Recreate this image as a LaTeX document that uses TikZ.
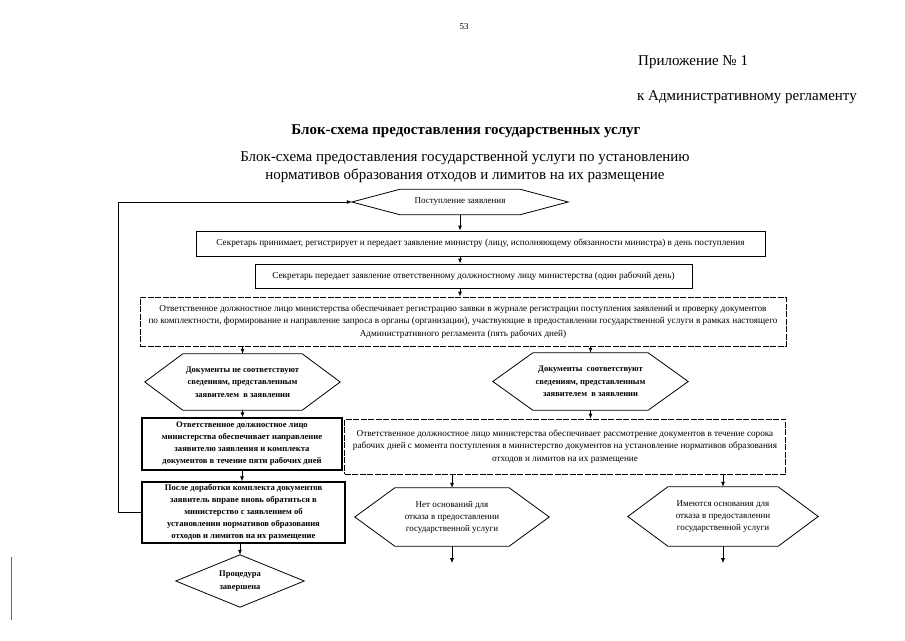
\documentclass[tikz,border=0pt]{standalone}
\usepackage{fontspec}
\setmainfont{Liberation Serif}
\usetikzlibrary{arrows.meta}

\tikzset{
  box/.style={draw, line width=0.8pt, inner sep=2pt, align=center, font=\fontsize{9.2}{12.5}\selectfont},
  dbox/.style={box, dash pattern=on 6pt off 1.5pt},
  bbox/.style={box, line width=1.1pt, font=\bfseries\fontsize{8.6}{12}\selectfont},
  hexa/.style={inner sep=0pt, align=center, font=\fontsize{9}{12}\selectfont},
  bhexa/.style={hexa, font=\bfseries\fontsize{8.5}{12.5}\selectfont},
  head/.style={inner sep=0pt, font=\fontsize{15}{15}\selectfont},
  arr/.style={-{Latex[length=5pt,width=4pt]}, line width=0.8pt}
}

\begin{document}
\begin{tikzpicture}[x=1pt, y=-1pt]
\useasboundingbox (0,0) rectangle (905,640);

% header
\node[inner sep=0pt, font=\fontsize{9}{9}\selectfont] (page) at (464,27) {53};
\node[head, anchor=west] (app) at (638,62) {Приложение № 1};
\node[head, anchor=west] (appto) at (637,97) {к Административному регламенту};
\node[inner sep=0pt, font=\bfseries\fontsize{15}{15}\selectfont] (title) at (466,131) {Блок-схема предоставления государственных услуг};
\node[inner sep=0pt, align=center, font=\fontsize{15}{18}\selectfont] (subtitle) at (465,167)
  {Блок-схема предоставления государственной услуги по установлению\\нормативов образования отходов и лимитов на их размещение};

% blocks
\node[hexa, minimum width=216, minimum height=25] (start) at (460,202) {Поступление заявления};
\node[box, minimum width=569, minimum height=25] (sec1) at (480.5,243.5)
  {Секретарь принимает, регистрирует и передает заявление министру (лицу, исполняющему обязанности министра) в день поступления};
\node[box, minimum width=437, minimum height=24] (sec2) at (473.5,276)
  {Секретарь передает заявление ответственному должностному лицу министерства (один рабочий день)};
\node[dbox, minimum width=646, minimum height=49] (reg) at (463,321.5)
  {Ответственное должностное лицо министерства обеспечивает регистрацию заявки в журнале регистрации поступления заявлений и проверку документов\\
   по комплектности, формирование и направление запроса в органы (организации), участвующие в предоставлении государственной услуги в рамках настоящего\\
   Административного регламента (пять рабочих дней)};

\node[bhexa, minimum width=195, minimum height=56] (nomatch) at (242.5,382)
  {Документы не соответствуют\\сведениям, представленным\\заявителем \ в заявлении};
\node[bhexa, minimum width=195, minimum height=57] (match) at (590.5,381.5)
  {Документы \ соответствуют\\сведениям, представленным\\заявителем \ в заявлении};

\node[bbox, minimum width=200, minimum height=52] (send) at (242,444)
  {Ответственное должностное лицо\\министерства обеспечивает направление\\заявителю заявления и комплекта\\документов в течение пяти рабочих дней};
\node[dbox, minimum width=441, minimum height=55] (review) at (565,446.5)
  {Ответственное должностное лицо министерства обеспечивает рассмотрение документов в течение сорока\\
   рабочих дней с момента поступления в министерство документов на установление нормативов образования\\
   отходов и лимитов на их размещение};

\node[bbox, minimum width=203, minimum height=61] (again) at (243.5,512.5)
  {После доработки комплекта документов\\заявитель вправе вновь обратиться в\\министерство с заявлением об\\установлении нормативов образования\\отходов и лимитов на их размещение};
\node[bhexa, minimum width=128, minimum height=52] (done) at (240,581) {Процедура\\завершена};

\node[hexa, minimum width=194, minimum height=58] (noref) at (452,517)
  {Нет оснований для\\отказа в предоставлении\\государственной услуги};
\node[hexa, minimum width=190, minimum height=59] (ref) at (723,516.5)
  {Имеются основания для\\отказа в предоставлении\\государственной услуги};

% hexagon and diamond outlines
\foreach \n/\d in {start/48, nomatch/38, match/40, noref/40, ref/40}
  \draw[line width=0.8pt] (\n.west) -- ([xshift=\d]\n.north west) -- ([xshift=-\d]\n.north east)
    -- (\n.east) -- ([xshift=-\d]\n.south east) -- ([xshift=\d]\n.south west) -- cycle;
\draw[line width=0.8pt] (done.north) -- (done.east) -- (done.south) -- (done.west) -- cycle;

% arrows
\draw[arr] (start.south) -- (start.south |- sec1.north);
\draw[arr] (start.south |- sec1.south) -- (start.south |- sec2.north);
\draw[arr] (start.south |- sec2.south) -- (start.south |- reg.north);
\draw[arr] (nomatch.north |- reg.south) -- (nomatch.north);
\draw[arr] (match.north |- reg.south) -- (match.north);
\draw[arr] (nomatch.south) -- (nomatch.south |- send.north);
\draw[arr] (match.south) -- (match.south |- review.north);
\draw[arr] (send.south) -- (send.south |- again.north);
\draw[arr] (done.north |- again.south) -- (done.north);
\draw[arr] (noref.north |- review.south) -- (noref.north);
\draw[arr] (ref.north |- review.south) -- (ref.north);
\draw[arr] (again.west) -- ++(-23,0) |- (start.west);

\coordinate (norefend) at ([yshift=-17]noref.south);
\coordinate (refend) at ([yshift=-17]ref.south);
\draw[arr] (noref.south) -- (norefend);
\draw[arr] (ref.south) -- (refend);

% scan mark on the margin
\draw[line width=0.8pt, black!60] (11,557) -- (11,620);
\end{tikzpicture}
\end{document}
